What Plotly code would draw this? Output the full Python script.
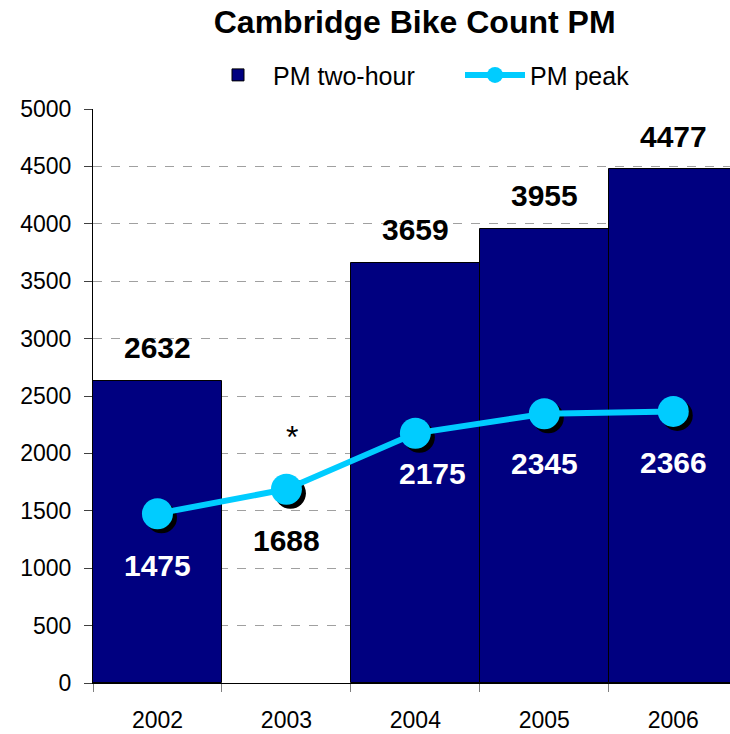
import plotly.graph_objects as go

years = ["2002", "2003", "2004", "2005", "2006"]
pm_two_hour = [2632, None, 3659, 3955, 4477]
pm_peak = [1475, 1688, 2175, 2345, 2366]
y_ticks = [0, 500, 1000, 1500, 2000, 2500, 3000, 3500, 4000, 4500, 5000]

# label styling
peak_label_colors = ["white", "black", "white", "white", "white"]
peak_label_xshift = [0, 0, 17, 0, 0]
peak_label_yshift = [-52, -51, -40, -50, -51]
note_year = "2003"
note_text = "*"

FONT = "Liberation Sans, Arial, sans-serif"
NAVY = "#000080"
CYAN = "#00CCFF"

xr = [-0.5, 4.44]
yr_ = [0, 5000]
dx = 4 / 129.0
dy = 4 / 0.1148

fig = go.Figure()
fig.add_trace(go.Bar(
    x=years, y=pm_two_hour, name="PM two-hour",
    marker=dict(color=NAVY, line=dict(color="black", width=1)),
))
# shadow of markers (shifted overlay axes)
fig.add_trace(go.Scatter(
    x=years, y=pm_peak, mode="markers", showlegend=False, hoverinfo="skip",
    marker=dict(color="black", size=31), xaxis="x2", yaxis="y2",
))
fig.add_trace(go.Scatter(
    x=years, y=pm_peak, name="PM peak", mode="lines+markers",
    line=dict(color=CYAN, width=6),
    marker=dict(color=CYAN, size=31), xaxis="x3", yaxis="y3",
))

annotations = []
for i, v in enumerate(pm_two_hour):
    if v is None:
        continue
    annotations.append(dict(x=i, y=v, xref="x", yref="y", text=f"<b>{v}</b>", showarrow=False,
                            yanchor="middle", yshift=33,
                            font=dict(family=FONT, size=30, color="black")))
for i, (v, c, xs, ys) in enumerate(zip(pm_peak, peak_label_colors, peak_label_xshift, peak_label_yshift)):
    annotations.append(dict(x=i, y=v, xref="x", yref="y", text=f"<b>{v}</b>", showarrow=False,
                            yanchor="middle", xshift=xs, yshift=ys,
                            font=dict(family=FONT, size=30, color=c)))
ni = years.index(note_year)
annotations.append(dict(x=ni, y=pm_peak[ni], xref="x", yref="y", text=note_text, showarrow=False,
                        yanchor="middle", xshift=6, yshift=52,
                        font=dict(family=FONT, size=32, color="black")))

fig.update_layout(
    width=730, height=734,
    margin=dict(l=93, r=0, t=109, b=51, autoexpand=False),
    paper_bgcolor="white", plot_bgcolor="white",
    bargap=0,
    font=dict(family=FONT, color="black"),
    title=dict(text="<b>Cambridge Bike Count PM</b>", x=0.568, xref="container",
               y=1 - 22 / 734, yref="container", xanchor="center", yanchor="middle",
               font=dict(family=FONT, size=32, color="black")),
    legend=dict(orientation="h", x=(203 - 93) / 637, xanchor="left",
                y=1.059, yanchor="middle",
                font=dict(family=FONT, size=25, color="black"), itemwidth=60,
                entrywidth=182, entrywidthmode="pixels",
                bgcolor="rgba(0,0,0,0)", traceorder="normal"),
    showlegend=True,
    xaxis=dict(type="category", range=xr, showline=True, linecolor="black", linewidth=1,
               ticks="outside", tickson="boundaries", ticklen=8, tickcolor="#808080",
               showgrid=False, tickfont=dict(family=FONT, size=23, color="black"),
               ticklabelstandoff=16, tickangle=0, automargin=False,
               categoryorder="array", categoryarray=years, fixedrange=True),
    yaxis=dict(range=yr_, tickvals=y_ticks, showline=True, linecolor="black", linewidth=1,
               ticks="outside", ticklen=8, tickcolor="#404040",
               showgrid=True, gridcolor="#A0A0A0", griddash="dash", gridwidth=1,
               zeroline=False, tickfont=dict(family=FONT, size=23, color="black"),
               ticklabelstandoff=8, automargin=False),
    xaxis2=dict(type="category", range=[xr[0] - dx, xr[1] - dx], overlaying="x",
                visible=False, categoryorder="array", categoryarray=years),
    yaxis2=dict(range=[yr_[0] + dy, yr_[1] + dy], overlaying="y", visible=False),
    xaxis3=dict(type="category", range=xr, overlaying="x",
                visible=False, categoryorder="array", categoryarray=years),
    yaxis3=dict(range=yr_, overlaying="y", visible=False),
    annotations=annotations,
)

fig.write_html("out.html", config={"displayModeBar": False},
               post_script="document.body.style.margin='0';document.body.style.padding='0';")
